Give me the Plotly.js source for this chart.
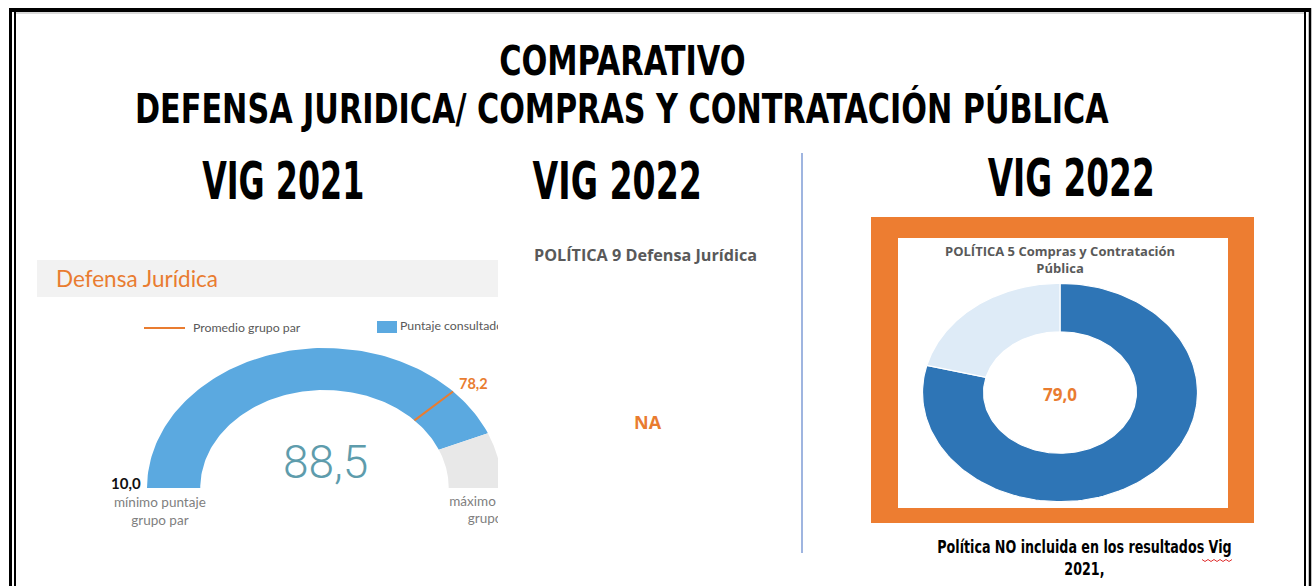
<!DOCTYPE html>
<html>
<head>
<meta charset="utf-8">
<script src="https://cdn.plot.ly/plotly-3.0.1.min.js"></script>
<style>html,body{margin:0;padding:0;background:#fff;}#chart{width:1312px;height:586px;}</style>
</head>
<body>
<div id="chart"></div>
<script>
// ---------- DATA ----------
const mainTitle = ['COMPARATIVO', 'DEFENSA JURIDICA/ COMPRAS Y CONTRATACIÓN PÚBLICA'];
const columnTitles = ['VIG 2021', 'VIG 2022', 'VIG 2022'];
const gaugeTitle = 'Defensa Jurídica';
const gaugeLegend = ['Promedio grupo par', 'Puntaje consultado'];
const gaugeRange = [10.0, 100.0];          // mínimo / máximo puntaje grupo par
const gaugeRangeLabels = ['mínimo puntaje<br>grupo par', 'máximo puntaje<br>grupo par'];
const gaugeScore = [88.5];                 // puntaje consultado
const gaugePeerAverage = [78.2];           // promedio grupo par
const politica9Title = 'POLÍTICA 9 Defensa Jurídica';
const politica9Value = ['NA'];
const politica5Title = 'POLÍTICA 5 Compras y Contratación<br>Pública';
const donutLabels = ['Puntaje', 'Restante'];
const donutValues = [79.0, 21.0];
const footNote = 'Política NO incluida en los resultados Vig<br>2021,';

// ---------- helpers ----------
const W = 1312, H = 586;
const px = x => x / W;
const py = y => 1 - y / H;
const fmt = v => v.toFixed(1).replace('.', ',');

// gauge: value -> angle (semicircle, left = min, right = max)
const gMin = gaugeRange[0], gMax = gaugeRange[1];
const gAngle = v => Math.PI * (1 - (v - gMin) / (gMax - gMin));
const G_IN = 0.70, G_OUT = 1.0;
function gaugeArc(v0, v1) {
  const xs = [], ys = [], n = 120;
  for (let i = 0; i <= n; i++) { const a = gAngle(v0 + (v1 - v0) * i / n); xs.push(G_OUT * Math.cos(a)); ys.push(G_OUT * Math.sin(a)); }
  for (let i = n; i >= 0; i--) { const a = gAngle(v0 + (v1 - v0) * i / n); xs.push(G_IN * Math.cos(a)); ys.push(G_IN * Math.sin(a)); }
  xs.push(xs[0]); ys.push(ys[0]);
  return {xs, ys};
}
// donut: cumulative fraction -> angle (start at 12 o'clock, clockwise)
const D_IN = 0.556, D_OUT = 1.0;
const total = donutValues.reduce((a, b) => a + b, 0);
const dAngle = f => Math.PI / 2 - 2 * Math.PI * f;
function donutSlice(f0, f1) {
  const xs = [], ys = [], n = 160;
  for (let i = 0; i <= n; i++) { const a = dAngle(f0 + (f1 - f0) * i / n); xs.push(D_OUT * Math.cos(a)); ys.push(D_OUT * Math.sin(a)); }
  for (let i = n; i >= 0; i--) { const a = dAngle(f0 + (f1 - f0) * i / n); xs.push(D_IN * Math.cos(a)); ys.push(D_IN * Math.sin(a)); }
  xs.push(xs[0]); ys.push(ys[0]);
  return {xs, ys};
}

// ---------- colours ----------
const BLUE_GAUGE = '#5BA9E0', GRAY_GAUGE = '#E8E8E8', ORANGE = '#E97C30';
const DONUT_COLORS = ['#2E75B6', '#DEEBF7'];
const LATO = 'Lato, "Open Sans", sans-serif';

const traces = [];
// gauge arcs
const arcScore = gaugeArc(gMin, gaugeScore[0]);
traces.push({type: 'scatter', mode: 'lines', x: arcScore.xs, y: arcScore.ys, fill: 'toself',
  fillcolor: BLUE_GAUGE, line: {width: 0, color: BLUE_GAUGE}, hoverinfo: 'skip', xaxis: 'x', yaxis: 'y'});
const arcRest = gaugeArc(gaugeScore[0], gMax);
traces.push({type: 'scatter', mode: 'lines', x: arcRest.xs, y: arcRest.ys, fill: 'toself',
  fillcolor: GRAY_GAUGE, line: {width: 0, color: GRAY_GAUGE}, hoverinfo: 'skip', xaxis: 'x', yaxis: 'y'});
// peer average marker
const aAvg = gAngle(gaugePeerAverage[0]);
traces.push({type: 'scatter', mode: 'lines',
  x: [G_IN * Math.cos(aAvg), G_OUT * Math.cos(aAvg)], y: [G_IN * Math.sin(aAvg), G_OUT * Math.sin(aAvg)],
  line: {color: ORANGE, width: 2}, hoverinfo: 'skip', xaxis: 'x', yaxis: 'y'});
// texts clipped by the gauge panel edge
traces.push({type: 'scatter', mode: 'text', x: [(496.5 - 324.5) / 177.5], y: [(488 - 511) / 140],
  text: [gaugeRangeLabels[1]], textposition: 'middle center', cliponaxis: true,
  textfont: {family: LATO, size: 13.5, color: '#7F7F7F'}, hoverinfo: 'skip', xaxis: 'x', yaxis: 'y'});
traces.push({type: 'scatter', mode: 'text', x: [(400 - 324.5) / 177.5], y: [(488 - 327) / 140],
  text: [gaugeLegend[1]], textposition: 'middle right', cliponaxis: true,
  textfont: {family: LATO, size: 12.3, color: '#595959'}, hoverinfo: 'skip', xaxis: 'x', yaxis: 'y'});

// donut slices
let cum = 0;
donutValues.forEach((v, i) => {
  const s = donutSlice(cum / total, (cum + v) / total);
  cum += v;
  traces.push({type: 'scatter', mode: 'lines', x: s.xs, y: s.ys, fill: 'toself', name: donutLabels[i],
    fillcolor: DONUT_COLORS[i], line: {width: 1.2, color: '#FFFFFF'}, hoverinfo: 'skip', xaxis: 'x2', yaxis: 'y2'});
});

// spell-check squiggle under "Vig"
let sq = 'M' + px(1202) + ',' + py(559.5);
for (let k = 1; k <= 10; k++) sq += ' L' + px(1202 + k * 3) + ',' + py(k % 2 ? 561.5 : 559.5);

// ---------- shapes ----------
const shapes = [
  // outer frame
  {type: 'line', xref: 'paper', yref: 'paper', x0: px(10.5), x1: px(10.5), y0: py(8), y1: py(600), line: {color: '#000', width: 3}},
  {type: 'line', xref: 'paper', yref: 'paper', x0: px(15), x1: px(15), y0: py(12), y1: py(600), line: {color: '#000', width: 2}},
  {type: 'line', xref: 'paper', yref: 'paper', x0: px(9), x1: px(1311), y0: py(10), y1: py(10), line: {color: '#000', width: 4}},
  {type: 'line', xref: 'paper', yref: 'paper', x0: px(16), x1: px(1304), y0: py(13), y1: py(13), line: {color: '#D9D9D9', width: 2}},
  {type: 'line', xref: 'paper', yref: 'paper', x0: px(1305), x1: px(1305), y0: py(12), y1: py(600), line: {color: '#000', width: 2}},
  {type: 'line', xref: 'paper', yref: 'paper', x0: px(1310), x1: px(1310), y0: py(8), y1: py(600), line: {color: '#000', width: 2.5}},
  // divider
  {type: 'line', xref: 'paper', yref: 'paper', x0: px(802), x1: px(802), y0: py(153), y1: py(553), line: {color: '#7F9CD6', width: 1.5}},
  // gauge header band
  {type: 'rect', xref: 'paper', yref: 'paper', x0: px(37), x1: px(498), y0: py(260), y1: py(297), fillcolor: '#F2F2F2', line: {width: 0}, layer: 'below'},
  // gauge legend symbols
  {type: 'line', xref: 'paper', yref: 'paper', x0: px(144), x1: px(185), y0: py(328), y1: py(328), line: {color: ORANGE, width: 2}},
  {type: 'rect', xref: 'paper', yref: 'paper', x0: px(377), x1: px(397), y0: py(321), y1: py(333), fillcolor: BLUE_GAUGE, line: {width: 0}},
  // orange frame around donut
  {type: 'rect', xref: 'paper', yref: 'paper', x0: px(871), x1: px(1254), y0: py(217), y1: py(523), fillcolor: '#ED7D31', line: {width: 0}, layer: 'below'},
  {type: 'rect', xref: 'paper', yref: 'paper', x0: px(898), x1: px(1228), y0: py(238), y1: py(508), fillcolor: '#FFFFFF', line: {width: 0}, layer: 'below'},
  {type: 'path', xref: 'paper', yref: 'paper', path: sq, line: {color: '#E03030', width: 1}}
];

// ---------- annotations ----------
const TITLE_FONT = '"DejaVu Sans Condensed", "DejaVu Sans", sans-serif';
const CAL = '"Open Sans", "Noto Sans", sans-serif';
const squeeze = {};   // annotation index -> horizontal compression (narrow display font)
const annotations = [];
function ann(text, x, y, font, opts, sx) {
  if (sx) squeeze[annotations.length] = sx;
  annotations.push(Object.assign({text, x: px(x), y: py(y), xref: 'paper', yref: 'paper', showarrow: false,
    xanchor: 'center', yanchor: 'middle', font}, opts || {}));
}
ann(mainTitle[0], 622, 61, {family: TITLE_FONT, size: 41, color: '#000', weight: 700}, null, 0.825);
ann(mainTitle[1], 622, 109, {family: TITLE_FONT, size: 41, color: '#000', weight: 700}, null, 0.82);
ann(columnTitles[0], 282.5, 181, {family: TITLE_FONT, size: 52, color: '#000', weight: 700}, null, 0.68);
ann(columnTitles[1], 616.5, 181, {family: TITLE_FONT, size: 52, color: '#000', weight: 700}, null, 0.71);
ann(columnTitles[2], 1070.5, 178, {family: TITLE_FONT, size: 52, color: '#000', weight: 700}, null, 0.70);
// gauge panel
ann(gaugeTitle, 54, 278, {family: LATO, size: 22.5, color: ORANGE}, {xanchor: 'left'});
ann(gaugeLegend[0], 191, 327, {family: LATO, size: 12.3, color: '#595959'}, {xanchor: 'left'});
ann(fmt(gaugeScore[0]), 325, 462, {family: 'Roboto, Lato, sans-serif', size: 46, color: '#5E9CAC', weight: 300});
ann(fmt(gaugeRange[0]), 143, 483, {family: LATO, size: 15, color: '#111', weight: 700}, {xanchor: 'right'});
ann(gaugeRangeLabels[0], 160, 511, {family: LATO, size: 13.5, color: '#7F7F7F'});
ann(fmt(gaugePeerAverage[0]), 324.5 + 1.05 * Math.cos(aAvg) * 177.5 - 2, 488 - 1.05 * Math.sin(aAvg) * 140 - 3,
    {family: LATO, size: 14.5, color: ORANGE, weight: 700}, {xanchor: 'left'});
// middle panel
ann(politica9Title, 645.5, 255, {family: CAL, size: 16.2, color: '#595959', weight: 700});
ann(politica9Value[0], 648, 422, {family: CAL, size: 18, color: ORANGE, weight: 700});
// donut panel
ann(politica5Title, 1060, 260, {family: CAL, size: 13, color: '#595959', weight: 700});
ann(fmt(donutValues[0]), 1060, 394, {family: CAL, size: 17, color: ORANGE, weight: 700});
ann(footNote, 1084, 558, {family: TITLE_FONT, size: 17, color: '#000', weight: 700}, null, 0.83);

const hidden = {visible: false, fixedrange: true, showgrid: false, zeroline: false};
const layout = {
  width: W, height: H, margin: {l: 0, r: 0, t: 0, b: 0},
  paper_bgcolor: '#FFFFFF', plot_bgcolor: 'rgba(0,0,0,0)', showlegend: false,
  xaxis: Object.assign({domain: [px(37), px(498)], range: [(37 - 324.5) / 177.5, (498 - 324.5) / 177.5]}, hidden),
  yaxis: Object.assign({domain: [py(540), py(300)], range: [(488 - 540) / 140, (488 - 300) / 140]}, hidden),
  xaxis2: Object.assign({domain: [px(898), px(1228)], range: [(898 - 1060) / 137.5, (1228 - 1060) / 137.5], anchor: 'y2'}, hidden),
  yaxis2: Object.assign({domain: [py(508), py(238)], range: [(392.5 - 508) / 109.2, (392.5 - 238) / 109.2], anchor: 'x2'}, hidden),
  shapes, annotations
};
Plotly.newPlot('chart', traces, layout, {displayModeBar: false, staticPlot: true}).then(gd => {
  Object.keys(squeeze).forEach(i => {
    const t = gd.querySelector('g.annotation[data-index="' + i + '"] text.annotation-text');
    if (t) {
      t.style.transformBox = 'fill-box';
      t.style.transformOrigin = 'center';
      t.style.transform = 'scaleX(' + squeeze[i] + ')';
    }
  });
});
</script>
</body>
</html>
